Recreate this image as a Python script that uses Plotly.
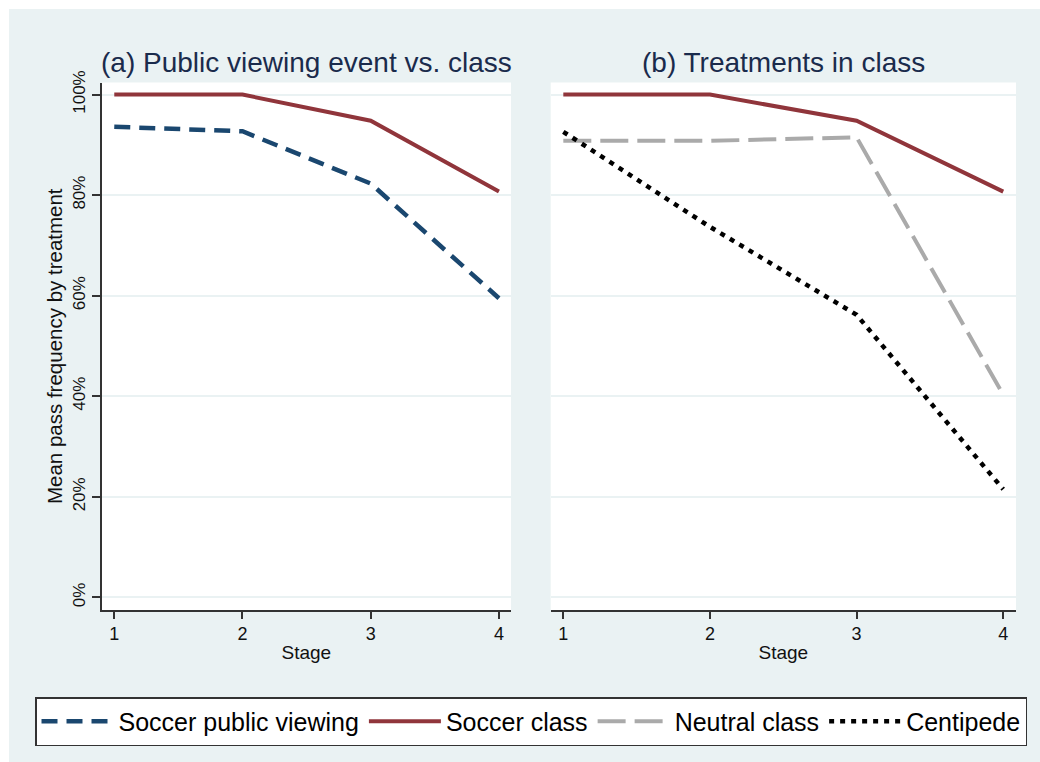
import plotly.graph_objects as go

stages = [1, 2, 3, 4]
soccer_public_viewing = [93.6, 92.7, 82.3, 59.5]
soccer_class = [100.0, 100.0, 94.8, 80.7]
neutral_class = [90.8, 90.8, 91.5, 40.3]
centipede = [92.6, 73.7, 56.2, 21.5]

y_ticks = [0, 20, 40, 60, 80, 100]
y_ticklabels = ["0%", "20%", "40%", "60%", "80%", "100%"]
panel_titles = ["(a) Public viewing event vs. class", "(b) Treatments in class"]

W, H = 1040, 762
FONT = "Liberation Sans, Arial, sans-serif"
NAVY = "#1a476f"
MAROON = "#90353b"
GRAY = "#aaaaaa"
BLACK = "#000000"
BG = "#eaf2f3"

def px_x(p):
    return p / W

def px_y(p):
    return 1 - p / H

fig = go.Figure()

fig.add_trace(go.Scatter(x=stages, y=soccer_public_viewing, mode="lines", name="Soccer public viewing",
                         line=dict(color=NAVY, width=4.5, dash="16px,9px"), xaxis="x", yaxis="y"))
fig.add_trace(go.Scatter(x=stages, y=soccer_class, mode="lines", name="Soccer class",
                         line=dict(color=MAROON, width=4), xaxis="x", yaxis="y"))
fig.add_trace(go.Scatter(x=stages, y=soccer_class, mode="lines", name="Soccer class", showlegend=False,
                         line=dict(color=MAROON, width=4), xaxis="x2", yaxis="y2"))
fig.add_trace(go.Scatter(x=stages, y=neutral_class, mode="lines", name="Neutral class",
                         line=dict(color=GRAY, width=4, dash="28px,9px"), xaxis="x2", yaxis="y2"))
fig.add_trace(go.Scatter(x=stages, y=centipede, mode="lines", name="Centipede",
                         line=dict(color=BLACK, width=4.5, dash="5px,6px"), xaxis="x2", yaxis="y2"))

ydom = [px_y(610), px_y(82.5)]
xaxis_common = dict(tickvals=stages, ticktext=[str(s) for s in stages], showgrid=False, zeroline=False,
                    showline=True, linecolor="#333333", linewidth=1.5, ticks="outside", ticklen=7,
                    tickcolor="#333333", tickwidth=1.5, tickfont=dict(size=18, color="#111111"),
                    title=dict(text="Stage", font=dict(size=19, color="#111111"), standoff=2),
                    automargin=False)
yaxis_common = dict(range=[-2.5, 102.4], tickvals=y_ticks, showgrid=True, gridcolor=BG, gridwidth=1.5,
                    zeroline=False, domain=ydom, automargin=False)

fig.update_layout(
    width=W, height=H,
    margin=dict(l=0, r=0, t=0, b=0, pad=0, autoexpand=False),
    paper_bgcolor=BG,
    plot_bgcolor="white",
    font=dict(family=FONT, color="#111111"),
    xaxis=dict(domain=[px_x(101.7), px_x(511)], range=[0.902, 4.094], anchor="y", **xaxis_common),
    xaxis2=dict(domain=[px_x(550.7), px_x(1016)], range=[0.914, 4.087], anchor="y2", **xaxis_common),
    yaxis=dict(anchor="x", ticktext=y_ticklabels, showticklabels=True, tickangle=-90,
               showline=True, linecolor="#333333", linewidth=1.5, ticks="outside", ticklen=8,
               tickcolor="#333333", tickwidth=1.5, tickfont=dict(size=17, color="#111111"),
               title=dict(text="Mean pass frequency by treatment", font=dict(size=20.5, color="#111111"), standoff=2),
               **yaxis_common),
    yaxis2=dict(anchor="x2", showticklabels=False, showline=False, ticks="", **yaxis_common),
    legend=dict(orientation="h", x=px_x(35), y=px_y(697), xanchor="left", yanchor="top",
                bgcolor="white", bordercolor="#333333", borderwidth=1.5,
                font=dict(size=25, color="#000000"), itemwidth=72, tracegroupgap=0),
    shapes=[
        dict(type="rect", xref="paper", yref="paper", x0=0, x1=1, y0=px_y(9), y1=1,
             fillcolor="white", line=dict(width=0), layer="below"),
        dict(type="rect", xref="paper", yref="paper", x0=0, x1=px_x(9), y0=0, y1=1,
             fillcolor="white", line=dict(width=0), layer="below"),
    ],
    annotations=[
        dict(text=panel_titles[0], x=px_x(306.4), y=px_y(62), xref="paper", yref="paper",
             xanchor="center", yanchor="middle", showarrow=False,
             font=dict(size=28, color="#1a2b4c", family=FONT)),
        dict(text=panel_titles[1], x=px_x(783.4), y=px_y(62), xref="paper", yref="paper",
             xanchor="center", yanchor="middle", showarrow=False,
             font=dict(size=28, color="#1a2b4c", family=FONT)),
    ],
)

fig.write_html("out.html", config={"displayModeBar": False},
               post_script="document.body.style.margin='0';")
